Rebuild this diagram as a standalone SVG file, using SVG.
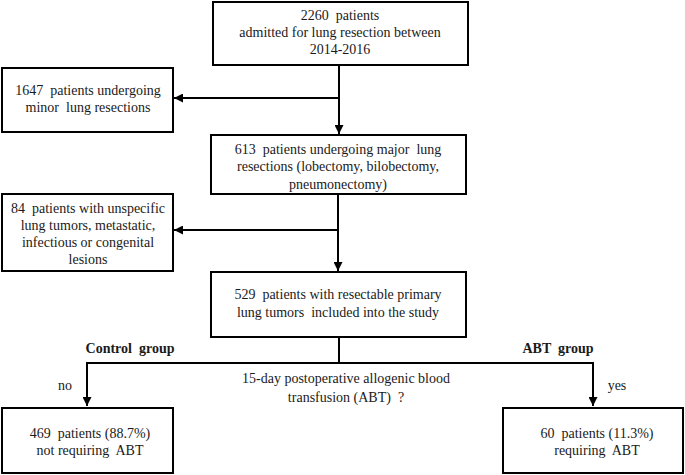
<svg xmlns="http://www.w3.org/2000/svg" width="685" height="475" viewBox="0 0 685 475">
<style>
.box{fill:#fff;stroke:#000;stroke-width:2}
.t{font-family:'Liberation Serif','Times New Roman','DejaVu Serif',serif;font-size:14px;fill:#1a1a1a;text-anchor:middle;white-space:pre}
.b{font-weight:bold}
.ln{fill:none;stroke:#000;stroke-width:2}
</style>
<defs>
<marker id="ah" viewBox="0 0 10 10" refX="10" refY="5" markerWidth="4.5" markerHeight="4.5" orient="auto" markerUnits="strokeWidth">
<path d="M0,0 L10,5 L0,10 z" fill="#000"/>
</marker>
</defs>
<rect width="685" height="475" fill="#fff"/>
<g id="connectors">
<line class="ln" x1="339" y1="65" x2="339" y2="134" marker-end="url(#ah)"/>
<line class="ln" x1="339" y1="98" x2="174" y2="98" marker-end="url(#ah)"/>
<line class="ln" x1="338" y1="194" x2="338" y2="271" marker-end="url(#ah)"/>
<line class="ln" x1="338" y1="230" x2="174" y2="230" marker-end="url(#ah)"/>
<line class="ln" x1="339" y1="337" x2="339" y2="363"/>
<polyline class="ln" points="87,363 593,363 593,406" marker-end="url(#ah)"/>
<line class="ln" x1="87" y1="362" x2="87" y2="406" marker-end="url(#ah)"/>
</g>
<g id="n2260">
<rect class="box" x="213" y="2" width="255" height="63"/>
<text class="t" x="340" y="20">2260  patients</text>
<text class="t" x="340" y="37">admitted for lung resection between</text>
<text class="t" x="340" y="54">2014-2016</text>
</g>
<g id="n1647">
<rect class="box" x="2" y="68" width="171" height="64"/>
<text class="t" x="88" y="95">1647  patients undergoing</text>
<text class="t" x="88" y="112">minor  lung resections</text>
</g>
<g id="n613">
<rect class="box" x="211" y="135" width="255" height="59"/>
<text class="t" x="338" y="154">613  patients undergoing major  lung</text>
<text class="t" x="338" y="171">resections (lobectomy, bilobectomy,</text>
<text class="t" x="338" y="189">pneumonectomy)</text>
</g>
<g id="n84">
<rect class="box" x="2" y="194" width="171" height="77"/>
<text class="t" x="88" y="213">84  patients with unspecific</text>
<text class="t" x="88" y="230">lung tumors, metastatic,</text>
<text class="t" x="88" y="247">infectious or congenital</text>
<text class="t" x="88" y="264">lesions</text>
</g>
<g id="n529">
<rect class="box" x="211" y="272" width="255" height="65"/>
<text class="t" x="338" y="299">529  patients with resectable primary</text>
<text class="t" x="338" y="317">lung tumors  included into the study</text>
</g>
<g id="labels">
<text class="t b" x="130" y="353">Control  group</text>
<text class="t b" x="558" y="353">ABT  group</text>
<text class="t" x="65" y="390">no</text>
<text class="t" x="617" y="390">yes</text>
<text class="t" x="346" y="383">15-day postoperative allogenic blood</text>
<text class="t" x="346" y="402">transfusion (ABT)  ?</text>
</g>
<g id="n469">
<rect class="box" x="2" y="408" width="171" height="65"/>
<text class="t" x="90" y="438">469  patients (88.7%)</text>
<text class="t" x="90" y="455">not requiring  ABT</text>
</g>
<g id="n60">
<rect class="box" x="503" y="408" width="180" height="65"/>
<text class="t" x="597" y="438">60  patients (11.3%)</text>
<text class="t" x="597" y="455">requiring  ABT</text>
</g>
</svg>
